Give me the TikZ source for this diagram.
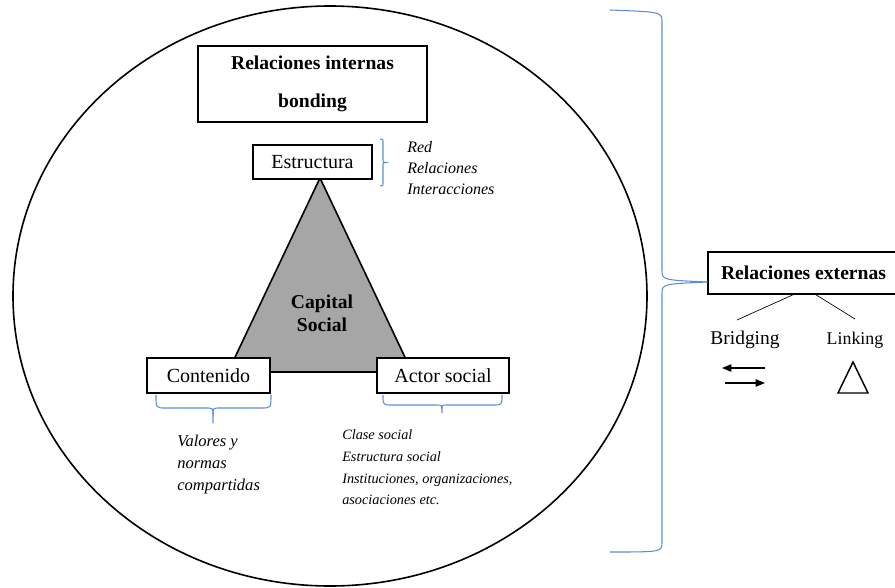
\documentclass[tikz,border=0pt]{standalone}
\usepackage{fontspec}
\setmainfont{Liberation Serif}
\usetikzlibrary{arrows.meta}
\definecolor{braceblue}{RGB}{91,143,212}
\definecolor{coregray}{RGB}{166,166,166}

\begin{document}
\begin{tikzpicture}[x=0.75pt, y=-0.75pt,
  box/.style={rectangle, draw=black, line width=0.8pt, fill=white, inner sep=0pt,
              text centered, font=\fontsize{15}{18}\selectfont},
  head/.style={box, align=center, font=\fontsize{14.7}{28.5}\selectfont\bfseries},
  note/.style={inner sep=0pt, anchor=west, align=left},
  brace/.style={draw=braceblue, line width=0.8pt},
  arrow/.style={-{Triangle[length=7pt, width=5.5pt]}, line width=0.8pt}
]
  \useasboundingbox (0,0) rectangle (895,588);

  % espacio interno
  \draw[line width=1.2pt] (330,296) ellipse [x radius=237.75pt, y radius=217.5pt];

  % triangulo del capital social
  \coordinate (apex) at (320,178);
  \coordinate (left) at (228,372);
  \coordinate (right) at (412,372);
  \draw[fill=coregray, line width=1.2pt] (apex) -- (left) -- (right) -- cycle;
  \node[align=center, font=\fontsize{14.7}{17.25}\selectfont\bfseries] (cs) at (322,313.5) {Capital\\Social};

  \node[head, minimum width=171.75pt, minimum height=57pt] (int) at (312.5,84) {Relaciones internas\\bonding};
  \node[box, minimum width=89.25pt, minimum height=25.5pt] (est) at (312.5,162) {Estructura};
  \node[box, minimum width=92.25pt, minimum height=26.25pt] (con) at (208.5,375.5) {Contenido};
  \node[box, minimum width=99pt, minimum height=26.25pt] (act) at (443,375.5) {Actor social};

  % llaves y notas
  \draw[brace] (380,139) .. controls (383,139) .. (383,143) -- (383,159)
    .. controls (383,162.5) .. (386,162.5) .. controls (383,162.5) .. (383,166)
    -- (383,182) .. controls (383,186) .. (380,186);
  \node[note, font=\fontsize{12}{15.75}\selectfont\itshape] (estn) at (407,168)
    {Red\\Relaciones\\Interacciones};

  \draw[brace] (156,395) .. controls (156,408) .. (166,408) -- (206,408)
    .. controls (213,408) .. (213,415) -- (213,423);
  \draw[brace] (213,415) .. controls (213,408) .. (220,408) -- (261,408)
    .. controls (271,408) .. (271,395);
  \node[note, font=\fontsize{12.4}{16.5}\selectfont\itshape] (conn) at (177,465)
    {Valores y\\normas\\compartidas};

  \draw[brace] (383,395) .. controls (383,405) .. (392,405) -- (437,405)
    .. controls (442,405) .. (442,413);
  \draw[brace] (442,409) .. controls (442,405) .. (447,405) -- (493,405)
    .. controls (502,405) .. (502,395);
  \node[note, font=\fontsize{10.7}{16.3}\selectfont\itshape] (actn) at (342,467.5)
    {Clase social\\Estructura social\\Instituciones, organizaciones,\\asociaciones etc.};

  % relaciones externas
  \node[head, minimum width=143.25pt, minimum height=31.5pt] (ext) at (803.5,273) {Relaciones externas};
  \draw[brace] (610,10) .. controls (662,12) .. (662,22) -- (662,270)
    .. controls (662,280) .. ([yshift=-6.75pt]ext.west);
  \draw[brace] ([yshift=-6.75pt]ext.west) .. controls (662,284) .. (662,294)
    -- (662,542) .. controls (662,552) .. (610,552);

  \node[font=\fontsize{14.6}{17}\selectfont] (brid) at (745,340) {Bridging};
  \node[font=\fontsize{13.4}{16}\selectfont] (link) at (855,340) {Linking};
  \coordinate (bridtop) at (737,320);
  \coordinate (linktop) at (855,319);
  \draw[line width=0.5pt] ([xshift=-7.5pt]ext.south) -- (bridtop);
  \draw[line width=0.5pt] ([xshift=9pt]ext.south) -- (linktop);

  \coordinate (a1) at (765,368);
  \coordinate (a2) at (722,368);
  \coordinate (b1) at (725,383);
  \coordinate (b2) at (765,383);
  \draw[arrow] (a1) -- (a2);
  \draw[arrow] (b1) -- (b2);
  \draw[line width=1.1pt] (853,362) -- (838,393) -- (868,393) -- cycle;
\end{tikzpicture}
\end{document}
